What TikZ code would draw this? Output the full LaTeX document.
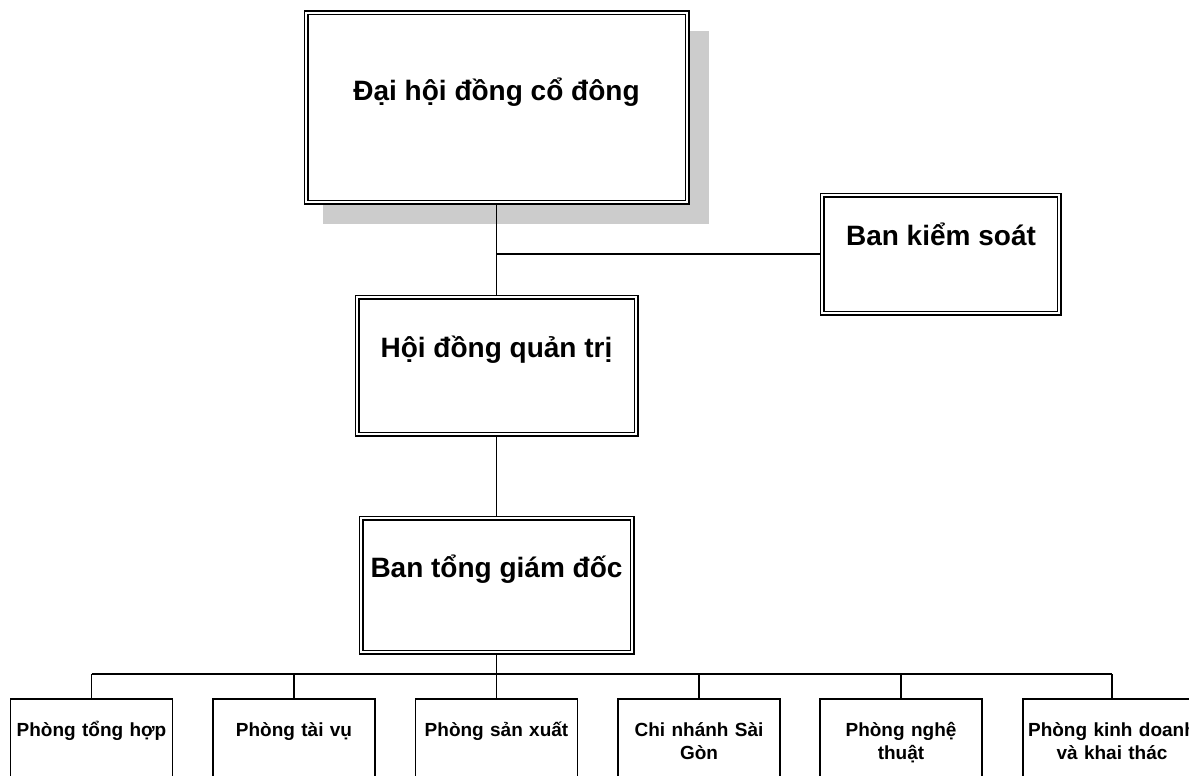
\documentclass[tikz,border=0pt]{standalone}
\usepackage{fontspec}
\setmainfont{Liberation Sans}
\usetikzlibrary{backgrounds,calc}
\tikzset{
  dbox/.style={draw, double, double distance=2.6pt, line width=1.2pt, fill=white, inner sep=0pt, outer sep=0pt},
  sbox/.style={draw, line width=1.2pt, fill=white, inner sep=0pt, outer sep=0pt, minimum width=162pt, minimum height=110pt},
  bigtxt/.style={font=\fontsize{28}{34}\selectfont\bfseries, anchor=base, inner sep=0pt},
  smalltxt/.style={font=\fontsize{19}{23}\selectfont\bfseries, anchor=base, align=center, text width=200pt, inner sep=0pt},
  conn/.style={line width=1.2pt},
  shadowfill/.style={fill=black!20}
}
\begin{document}
\begin{tikzpicture}[x=1pt,y=-1pt]
\useasboundingbox (0,0) rectangle (1189,776);
\clip (0,0) rectangle (1189,776);

% main boxes
\node[dbox, minimum width=381pt, minimum height=189pt] (dh) at (496.5,107.5) {};
\node[dbox, minimum width=237pt, minimum height=118pt] (bk) at (940.5,254) {};
\node[dbox, minimum width=279pt, minimum height=137pt] (hd) at (496.5,365.5) {};
\node[dbox, minimum width=271pt, minimum height=134pt] (bt) at (496.5,585) {};

% texts of main boxes
\node[bigtxt] (tdh) at (496.5,100) {Đại hội đồng cổ đông};
\node[bigtxt] (tbk) at (941,245) {Ban kiểm soát};
\node[bigtxt] (thd) at (496.5,357) {Hội đồng quản trị};
\node[bigtxt] (tbt) at (496.5,577) {Ban tổng giám đốc};

% bottom boxes
\node[sbox] (p1) at (91.5,754) {};
\node[sbox] (p2) at (294,754) {};
\node[sbox] (p3) at (496.5,754) {};
\node[sbox] (p4) at (699,754) {};
\node[sbox] (p5) at (901,754) {};
\node[sbox, minimum width=178pt] (p6) at (1112,754) {};

\node[smalltxt] (tp1) at (91.5,736) {Phòng tổng hợp};
\node[smalltxt] (tp2) at (294,736) {Phòng tài vụ};
\node[smalltxt] (tp3) at (496.5,736) {Phòng sản xuất};
\node[smalltxt] (tp4) at (699,736) {Chi nhánh Sài\\Gòn};
\node[smalltxt] (tp5) at (901,736) {Phòng nghệ\\thuật};
\node[smalltxt] (tp6) at (1112,736) {Phòng kinh doanh\\và khai thác};

\begin{pgfonlayer}{background}
  % shadow of top box
  \fill[shadowfill] ($(dh.north west)+(17,18)$) rectangle ($(dh.south east)+(22,22)$);
  % connectors
  \coordinate (j1) at (dh.south |- bk.west);
  \coordinate (bus) at (496.5,674);
  \draw[conn] (dh.south) -- (hd.north);
  \draw[conn] (j1) -- (bk.west);
  \draw[conn] (hd.south) -- (bt.north);
  \draw[conn] (bt.south) -- (bus);
  \draw[conn] (p1.north |- bus) -- (p6.north |- bus);
  \foreach \p in {p1,p2,p3,p4,p5,p6}{
    \draw[conn] (\p.north |- bus) -- (\p.north);
  }
\end{pgfonlayer}
\end{tikzpicture}
\end{document}
